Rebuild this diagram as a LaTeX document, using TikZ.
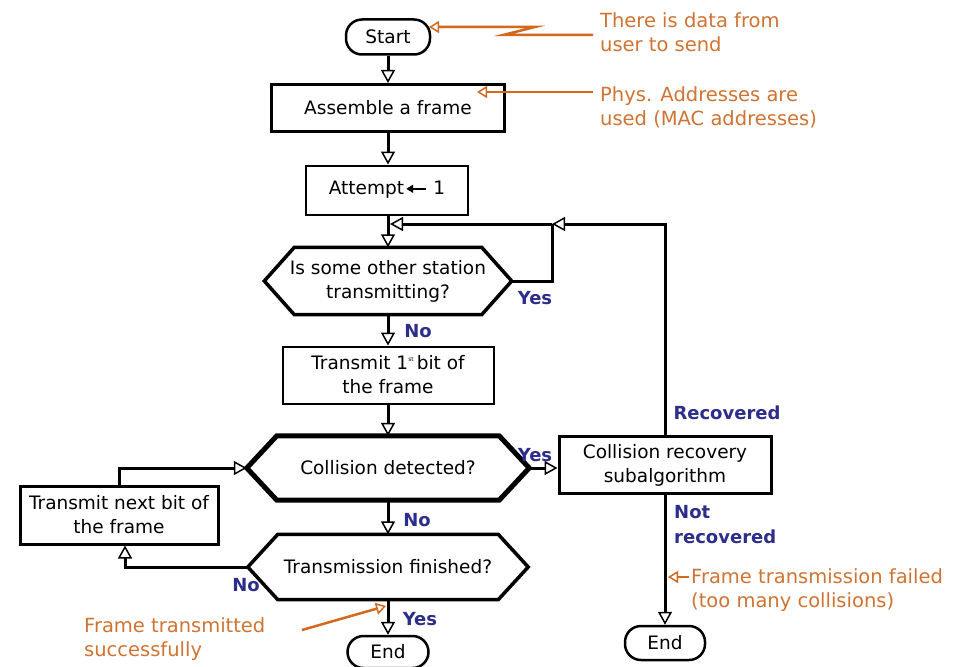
\documentclass[tikz,border=0pt]{standalone}
\usepackage{fontspec}
\setmainfont{DejaVu Sans}
\usetikzlibrary{arrows.meta}
\definecolor{ann}{HTML}{D2691E}
\definecolor{anntext}{HTML}{CF7433}
\definecolor{lbl}{HTML}{2D2D8C}
\newcommand\mainf{\fontsize{18.5}{24}\selectfont}
\newcommand\labf{\fontsize{18}{25}\selectfont\bfseries}
\newcommand\notef{\fontsize{19.5}{24}\selectfont}
\tikzset{
  procbox/.style={draw, rectangle, line width=3pt, align=center, font=\mainf, inner sep=0pt},
  thinbox/.style={procbox, line width=2pt},
  termbox/.style={procbox, rounded corners=16pt, line width=2.5pt},
  hexnode/.style={rectangle, align=center, font=\mainf, inner sep=0pt},
  hexline/.style={draw, line width=3.5pt, line join=miter},
  conn/.style={draw, line width=3pt, -{Triangle[length=13pt,width=14pt,fill=white,line width=1.5pt]}},
  plainline/.style={draw, line width=3pt},
  lab/.style={text=lbl, font=\labf, inner sep=0pt, align=left},
  note/.style={text=anntext, font=\notef, align=left, inner sep=0pt, anchor=west},
  noteline/.style={draw=ann, line width=2.5pt, -{Triangle[length=10pt,width=12pt,fill=white,line width=1.5pt]}},
}
\begin{document}
\begin{tikzpicture}[x=1pt,y=-1pt]
\useasboundingbox[fill=white] (0,0) rectangle (965,666);

% nodes
\node[termbox, minimum width=84pt, minimum height=35pt] (start) at (388,37) {Start};
\node[procbox, minimum width=233pt, minimum height=47pt] (assemble) at (388,108) {Assemble a frame};
\node[thinbox, minimum width=162pt, minimum height=49pt] (attempt) at (387,190)
  {Attempt\kern1pt\tikz[x=1pt,y=1pt,baseline=0pt]\draw[line width=2.2pt,-{Triangle[length=7pt,width=8pt]}] (20,6) -- (0,6);\kern6pt 1};
\node[hexnode, minimum width=247pt, minimum height=67pt] (hex1) at (388,281) {Is some other station\\transmitting?};
\node[thinbox, minimum width=211pt, minimum height=57pt] (tx1) at (388,375)
  {Transmit 1\raisebox{8pt}{\fontsize{6}{6}\selectfont st}\,bit of\\the frame};
\node[hexnode, minimum width=282pt, minimum height=64pt] (coll) at (388,468) {Collision detected?};
\node[hexnode, minimum width=280pt, minimum height=65pt] (fin) at (388,567) {Transmission finished?};
\node[termbox, minimum width=81pt, minimum height=32pt] (end1) at (388,652) {End};
\node[procbox, minimum width=198pt, minimum height=58pt] (nextbit) at (119,515) {Transmit next bit of\\the frame};
\node[procbox, minimum width=212pt, minimum height=57pt] (rec) at (665,465) {Collision recovery\\subalgorithm};
\node[termbox, minimum width=80pt, minimum height=34pt] (end2) at (665,643) {End};

% hexagon outlines
\draw[hexline] ([xshift=30pt]hex1.north west) -- ([xshift=-30pt]hex1.north east) -- (hex1.east)
  -- ([xshift=-30pt]hex1.south east) -- ([xshift=30pt]hex1.south west) -- (hex1.west) -- cycle;
\draw[hexline, line width=5pt] ([xshift=30pt]coll.north west) -- ([xshift=-30pt]coll.north east) -- (coll.east)
  -- ([xshift=-30pt]coll.south east) -- ([xshift=30pt]coll.south west) -- (coll.west) -- cycle;
\draw[hexline] ([xshift=30pt]fin.north west) -- ([xshift=-30pt]fin.north east) -- (fin.east)
  -- ([xshift=-30pt]fin.south east) -- ([xshift=30pt]fin.south west) -- (fin.west) -- cycle;

% connectors
\coordinate (c1) at (552,224);
\coordinate (c2) at (390,224);
\draw[conn] (start) -- (assemble);
\draw[conn] (assemble) -- (attempt.north -| assemble.south);
\draw[conn] (attempt.south -| hex1.north) -- (hex1.north);
\draw[conn] (rec.north) |- (c1);
\draw[conn] (c1) -- (c2);
\draw[plainline] (hex1.east) -| (c1);
\draw[conn] (hex1.south) -- (tx1.north);
\draw[conn] (tx1.south) -- (coll.north);
\draw[conn] (coll.east) -- (coll.east -| rec.west);
\draw[conn] (coll.south) -- (fin.north);
\draw[conn] (fin.west) -| ([xshift=6pt]nextbit.south);
\draw[conn] (nextbit.north) |- (coll.west);
\draw[conn] (fin.south) -- (end1.north);
\draw[conn] (rec.south) -- (end2.north);

% labels
\node[lab] (l1) at (535,298) {Yes};
\node[lab] (l2) at (418,331) {No};
\node[lab] (l3) at (535,455) {Yes};
\node[lab] (l4) at (417,520) {No};
\node[lab] (l5) at (246,585) {No};
\node[lab] (l6) at (420,619) {Yes};
\node[lab] (l7) at (727,413) {Recovered};
\node[lab, anchor=west] (l8) at (674,525) {Not\\recovered};

% annotations
\node[note] (n1) at (600,32) {There is data from\\user to send};
\node[note] (n2) at (600,107) {Phys. Addresses are\\used (MAC addresses)};
\node[note] (n3) at (691,590) {Frame transmission failed\\(too many collisions)};
\node[note] (n4) at (84,639) {Frame transmitted\\successfully};

\coordinate (z1) at (593,35);
\coordinate (z2) at (503,35);
\coordinate (z3) at (535,27);
\coordinate (z4) at (429,27);
\draw[noteline] (z1) -- (z2) -- (z3) -- (z4);
\coordinate (p1) at (593,92);
\coordinate (p2) at (477,92);
\draw[noteline] (p1) -- (p2);
\coordinate (f1) at (689,577);
\coordinate (f2) at (668,577);
\draw[noteline] (f1) -- (f2);
\coordinate (s1) at (302,630);
\coordinate (s2) at (386,606);
\draw[noteline] (s1) -- (s2);
\end{tikzpicture}
\end{document}
